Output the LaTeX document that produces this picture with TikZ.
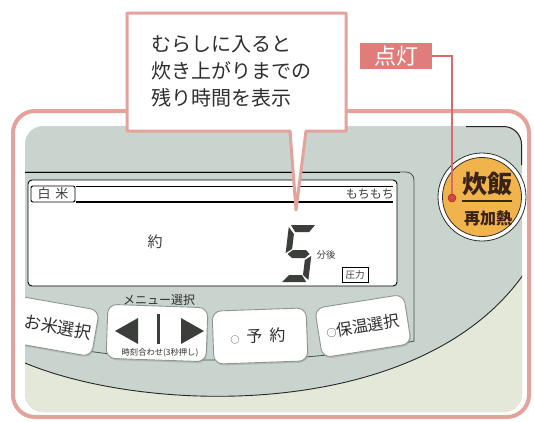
\documentclass[tikz,border=0pt]{standalone}
\usepackage{fontspec}
\newfontfamily\jp{Noto Sans CJK JP}
\usetikzlibrary{shadows}
\definecolor{pinkframe}{HTML}{E3A39B}
\definecolor{pinkbox}{HTML}{E07C79}
\definecolor{pinkline}{HTML}{D9696A}
\definecolor{panel}{HTML}{C8D4CD}
\definecolor{panellight}{HTML}{E4E8D8}
\definecolor{orangebtn}{HTML}{F1B44C}
\definecolor{lcddark}{HTML}{3B3E3B}
\definecolor{txt}{HTML}{2E2E2E}
\definecolor{btnedge}{HTML}{8E978F}
\definecolor{suitxt}{HTML}{3A2216}
\definecolor{dotred}{HTML}{D9443F}
\newcommand{\fs}[1]{\fontsize{#1}{#1}\selectfont}
\begin{document}
\begin{tikzpicture}[x=1pt,y=-1pt,font=\jp,
  btnbox/.style={draw=btnedge,line width=0.9pt,fill=white,rounded corners=9pt,inner sep=0pt,text=txt,
    drop shadow={shadow xshift=0.8pt,shadow yshift=-1.6pt,fill=black!40,opacity=0.45}},
  btntext/.style={text=txt,inner sep=0pt},
  lcdtext/.style={text=lcddark,inner sep=0pt},
  callouttext/.style={anchor=west,text=txt,inner sep=0pt,font=\jp\fs{20}}]
\useasboundingbox (0,0) rectangle (534,421);
\fill[white] (0,0) rectangle (534,421);

% outer pink frame
\draw[pinkframe,line width=4pt,rounded corners=22pt] (13,111) rectangle (529,417);

% panel
\fill[panel,rounded corners=18pt] (25,126) rectangle (522,412);
\begin{scope}
  \clip[rounded corners=18pt] (25,126) rectangle (522,412);
  \fill[panellight] (25,363) .. controls (150,415) and (420,420) .. (523,275) -- (540,275) -- (540,430) -- (0,430) -- (0,363) -- cycle;
  \draw[black!85,line width=0.9pt] (25,363) .. controls (150,415) and (420,420) .. (523,275);
  % recess outline
  \draw[black!70,line width=0.8pt] (20,337) .. controls (120,366) and (300,368) .. (414,341);
  \draw[black!70,line width=0.8pt,rounded corners=8pt] (414,341.5) -- (414,172) -- (20,172);
  \draw[black,line width=0.9pt] (20,172) -- (400,172);
  % buttons
  \node[btnbox,rotate=-10,minimum width=86pt,minimum height=47pt,font=\jp\fs{17}] (okome) at (53,326) {\hspace*{10pt}お米選択};
  \node[btnbox,rotate=-2,minimum width=100pt,minimum height=54pt] (menu) at (157,333) {};
  \node[btnbox,rotate=2,minimum width=94pt,minimum height=53pt,font=\jp\fs{16}] (yoyaku) at (260,336) {{\fs{9}○}\hspace{7pt}予\hspace{7pt}約\hspace*{4pt}};
  \node[btnbox,rotate=9,minimum width=90pt,minimum height=50pt,font=\jp\fs{16}] (hoon) at (363,326) {{\fs{10}○}保温選択};
\end{scope}
\draw[black!85,line width=1pt,rounded corners=18pt] (466,126.5) -- (521.5,126.5) -- (521.5,165);

% menu button content
\node[btntext,font=\jp\fs{12}] (menut) at (159,300) {メニュー選択};
\fill[lcddark] (115,331) -- (138,318) -- (138,344) -- cycle;
\fill[lcddark] (204,331) -- (181,318) -- (181,344) -- cycle;
\fill[lcddark] (157,314) rectangle (159.5,344);
\node[btntext,font=\jp\fs{8.3}] (jikoku) at (160,353) {時刻合わせ(3秒押し)};

% LCD
\node[draw=black,line width=0.9pt,fill=white,rounded corners=4pt,minimum width=369pt,minimum height=106pt,inner sep=0pt] (lcd) at (212.5,233) {};
\draw[black,line width=0.6pt] (76,186) -- (393,186);
\draw[black,line width=1.1pt] (76,202) -- (393,202);
\node[draw=black,line width=0.9pt,rounded corners=2pt,minimum width=44pt,minimum height=16pt,inner sep=0pt,lcdtext,font=\jp\fs{13}] (hakumai) at (53,194) {白\hspace{5pt}米};
\node[lcdtext,anchor=east,font=\jp\fs{12}] (mochi) at (394,194) {もちもち};
\node[lcdtext,font=\jp\fs{15}] (yaku) at (155,242) {約};
\begin{scope}[shift={(285,225)},xslant=0.12]
  \fill[lcddark] (6,0) -- (30,0) -- (25,7) -- (11,7) -- cycle;
  \fill[lcddark] (4,2) -- (10,9) -- (10,24) -- (4,28) -- cycle;
  \fill[lcddark] (6,29) -- (11,25) -- (24,25) -- (28,29) -- (24,33) -- (11,33) -- cycle;
  \fill[lcddark] (30,31) -- (30,55) -- (24,50) -- (24,35) -- cycle;
  \fill[lcddark] (4,57) -- (28,57) -- (23,50) -- (10,50) -- cycle;
\end{scope}
\node[lcdtext,font=\jp\fs{9.5}] (fungo) at (326,255) {分後};
\node[draw=black,line width=0.8pt,minimum width=26pt,minimum height=15pt,inner sep=0pt,lcdtext,font=\jp\fs{9.5}] (atsu) at (355,274.5) {圧力};

% 炊飯 button
\node[circle,draw=txt,line width=0.8pt,fill=white,minimum size=88pt,inner sep=0pt] (suiouter) at (482,197) {};
\node[circle,draw=txt,line width=0.8pt,fill=orangebtn,minimum size=79pt,inner sep=0pt] (sui) at (482,197) {};
\node[inner sep=0pt,text=suitxt,font=\jp\bfseries\fs{25}] (suit) at (487,184) {炊飯};
\draw[suitxt,line width=1.3pt] (462,201) -- (512,201);
\node[inner sep=0pt,text=suitxt,font=\jp\bfseries\fs{16}] (saikanetsu) at (488,218) {再加熱};

% callout
\draw[pinkframe,line width=3pt,fill=white,line join=round] (127,13) -- (346,13) -- (346,131) -- (306,131) -- (296,210) -- (290,131) -- (127,131) -- cycle;
\node[callouttext] (c1) at (151,44) {むらしに入ると};
\node[callouttext] (c2) at (151,71) {炊き上がりまでの};
\node[callouttext] (c3) at (151,98) {残り時間を表示};

% 点灯 label and connector
\node[fill=pinkbox,text=white,minimum width=72pt,minimum height=26pt,inner sep=0pt,font=\jp\fs{22}] (tento) at (396,56) {点灯};
\node[circle,fill=dotred,draw=dotred!70!black,line width=0.5pt,minimum size=8pt,inner sep=0pt] (dot) at (452,198) {};
\draw[pinkline,line width=1.2pt] (tento.east) -| (dot.north);
\end{tikzpicture}
\end{document}
